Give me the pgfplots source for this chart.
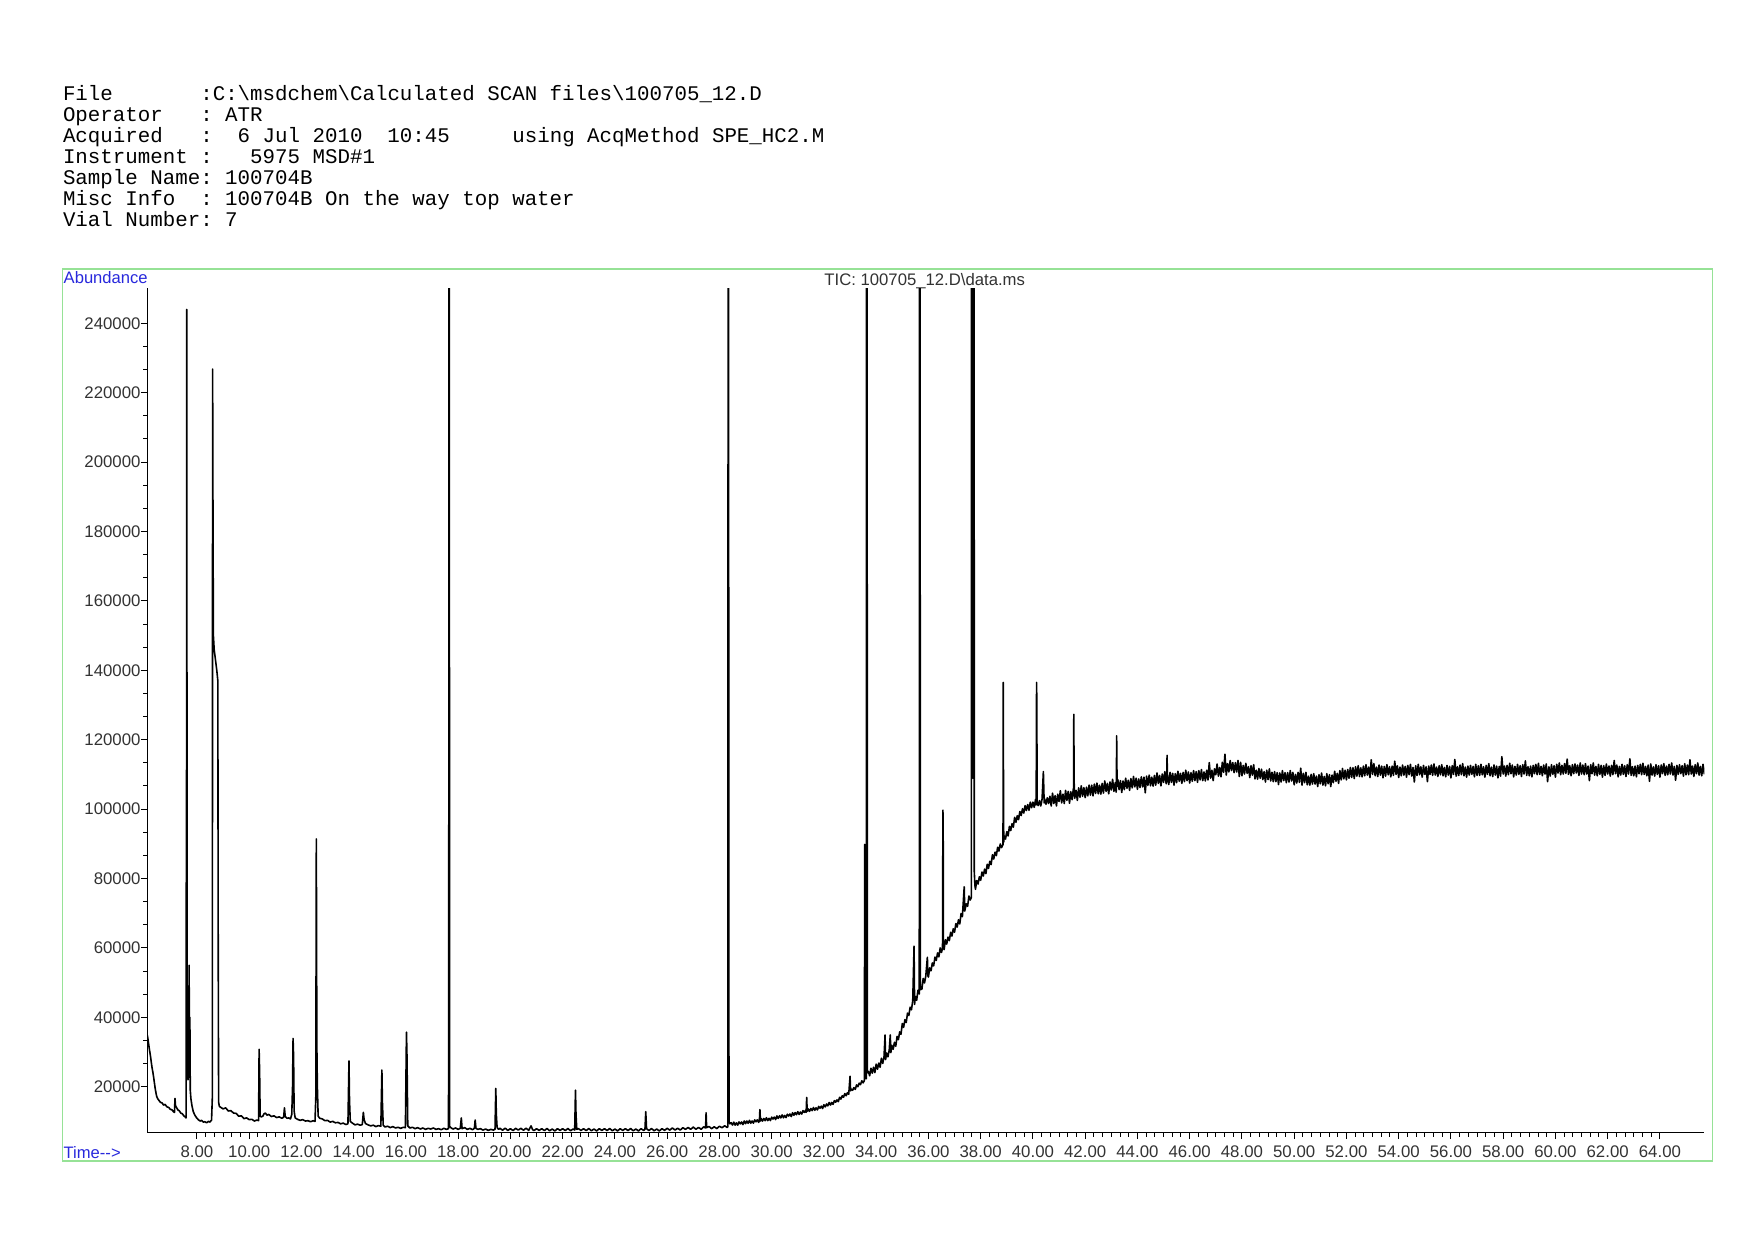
\documentclass[border=0pt]{standalone}
\usepackage{fontspec}
\setmainfont{Liberation Sans}
\newfontfamily\monofont{Liberation Mono}
\usepackage{pgfplots}
\pgfplotsset{compat=1.18}
\definecolor{frameGreen}{RGB}{150,226,150}
\definecolor{labelBlue}{RGB}{40,40,220}
\definecolor{tickGray}{RGB}{50,50,50}
\begin{document}
\frenchspacing
\begin{tikzpicture}
\path[use as bounding box] (0pt,0pt) rectangle (877pt,620pt);
% header
\begin{scope}[every node/.style={anchor=base west, inner sep=0pt, font=\monofont\fontsize{10.4}{12}\selectfont\frenchspacing}]
\node at (31.3pt,569.6pt) {File~~~~~~~:C:\textbackslash msdchem\textbackslash Calculated SCAN files\textbackslash 100705\_12.D};
\node at (31.3pt,559.15pt) {Operator~~~: ATR};
\node at (31.3pt,548.7pt) {Acquired~~~:~~6 Jul 2010~~10:45~~~~~using AcqMethod SPE\_HC2.M};
\node at (31.3pt,538.25pt) {Instrument :~~~5975 MSD\#1};
\node at (31.3pt,527.8pt) {Sample Name: 100704B};
\node at (31.3pt,517.35pt) {Misc Info~~: 100704B On the way top water};
\node at (31.3pt,506.9pt) {Vial Number: 7};
\end{scope}
% frame
\draw[frameGreen, line width=0.8pt] (31.15pt,39.5pt) rectangle (856.15pt,485.5pt);
\node[anchor=base west, inner sep=0pt, text=labelBlue, font=\fontsize{8.3}{10}\selectfont] at (31.65pt,478.0pt) {Abundance};
\node[anchor=base west, inner sep=0pt, text=labelBlue, font=\fontsize{8.3}{10}\selectfont] at (31.65pt,40.9pt) {Time-{}->};
\node[anchor=base, inner sep=0pt, text=tickGray, font=\fontsize{8.35}{10}\selectfont] at (462.35pt,477.3pt) {TIC: 100705\_12.D\textbackslash data.ms};
\begin{axis}[
  at={(73.65pt,53.65pt)}, anchor=south west,
  scale only axis, width=778.5pt, height=422.2pt,
  xmin=6.10, xmax=65.70, ymin=6740, ymax=250090,
  axis lines*=left,
  axis line style={-, line width=0.6pt, black},
  every outer x axis line/.append style={-},
  every outer y axis line/.append style={-},
  xtick={8,10,...,64}, ytick={20000,40000,...,240000},
  minor x tick num=5, minor y tick num=2,
  tick align=outside, major tick length=3.2pt, minor tick length=2pt,
  tick style={black, line width=0.5pt},
  scaled ticks=false,
  xticklabel={\pgfmathprintnumber[fixed,fixed zerofill,precision=2]{\tick}},
  yticklabel style={inner sep=0pt, /pgf/number format/.cd, fixed, precision=0, 1000 sep={}},
  tick label style={font=\fontsize{8.4}{10}\selectfont, text=tickGray},
  /pgf/number format/assume math mode=true,
  clip=true,
]
\addplot[black, line width=0.8pt, line join=round, mark=none] coordinates {
(6.10,34900)(6.13,33500)(6.16,31800)(6.19,30300)(6.22,28900)(6.25,27200)(6.28,25600)(6.31,24300)(6.34,22900)(6.37,21200)(6.40,19600)(6.43,18300)(6.46,17200)(6.50,16500)(6.55,16000)(6.60,15500)(6.67,15300)(6.72,14700)(6.78,14900)(6.85,14200)(6.92,14000)(6.98,13500)(7.05,13300)(7.10,12800)(7.14,12600)(7.16,16600)(7.18,14500)(7.22,14000)(7.27,13300)(7.32,13100)(7.38,12400)(7.44,12200)(7.50,11600)(7.55,11300)(7.58,11000)
(7.585,11000)(7.595,98000)(7.60,70000)(7.61,244000)(7.625,40000)(7.64,28000)(7.66,22000)(7.69,25000)(7.70,55000)(7.715,30000)(7.73,40000)(7.745,19000)(7.77,16500)(7.81,14500)(7.86,12800)(7.92,11800)(7.98,11100)(8.05,10500)(8.12,10100)(8.18,10300)(8.24,9800)(8.30,9900)(8.37,9600)(8.44,10000)(8.50,9800)(8.56,10400)
(8.59,17000)(8.60,226800)(8.615,183000)(8.63,150000)(8.66,146000)(8.71,143000)(8.76,140000)(8.80,137000)(8.815,58000)(8.83,15500)(8.86,14300)(8.92,14000)(9.0,13600)
(9.1,13900)(9.2,13000)(9.3,13100)(9.4,12400)(9.5,12300)(9.6,11500)(9.7,11600)(9.8,10800)(9.9,11000)(10.0,10500)(10.1,10600)(10.2,10100)(10.3,10400)(10.36,10200)(10.38,30800)(10.40,24000)(10.42,11500)(10.47,11300)(10.52,11500)(10.57,12200)(10.62,12400)(10.68,11800)(10.75,12000)(10.85,11400)(10.95,11600)(11.05,11100)(11.15,11300)(11.25,10900)(11.32,11200)(11.35,13900)(11.38,11400)(11.45,10900)(11.52,11000)(11.58,10700)(11.63,12000)(11.66,20000)(11.68,33900)(11.70,28600)(11.72,13000)(11.76,11000)(11.85,10600)(11.95,10300)(12.05,10500)(12.15,10100)(12.25,10200)(12.35,9900)(12.45,10200)(12.52,10000)(12.55,17000)(12.57,91400)(12.59,32000)(12.61,20000)(12.64,11500)(12.7,10900)(12.8,10700)(12.9,10200)(13.0,10300)(13.1,9800)(13.2,10000)(13.3,9600)(13.4,9700)(13.5,9300)(13.6,9500)(13.7,9100)(13.78,9300)(13.82,27400)(13.84,16000)(13.87,10000)(13.95,9500)(14.05,9000)(14.15,9200)(14.25,8900)(14.33,9100)(14.37,12600)(14.40,10500)(14.45,9400)(14.55,9000)(14.65,8700)(14.75,8900)(14.85,8500)(14.95,8800)(15.04,8600)(15.08,24800)(15.10,15500)(15.13,8900)(15.2,8400)(15.3,8600)(15.4,8200)(15.5,8500)(15.6,8100)(15.7,8300)(15.8,8000)(15.9,8300)(15.98,8200)(16.02,35700)(16.04,29000)(16.07,8700)(16.15,8100)(16.25,8300)(16.35,7900)(16.45,8200)(16.55,7800)(16.65,8100)(16.75,7700)(16.85,8000)(16.95,7800)(17.05,8100)(17.15,7700)(17.25,7900)(17.35,7600)(17.45,8000)(17.55,7700)(17.63,7900)(17.645,130000)(17.655,400000)(17.665,150000)(17.675,8500)(17.72,8200)(17.8,7800)(17.9,8100)(18.0,7700)(18.08,8000)(18.12,11000)(18.15,7900)(18.25,8200)(18.35,7700)(18.45,8000)(18.55,7600)(18.62,8000)(18.65,10400)(18.68,8000)(18.75,7700)(18.85,7900)(18.95,7500)(19.05,7800)(19.15,7400)(19.25,7700)(19.35,7500)(19.41,7700)(19.44,19500)(19.46,12000)(19.49,8200)(19.55,7700)
(19.6,8000)(19.7,7450)(19.8,8050)(19.9,7400)(20.0,7900)(20.1,7350)(20.2,8000)(20.3,7500)(20.4,8000)(20.5,7450)(20.6,8050)(20.7,7400)(20.79,8700)(20.85,7600)(20.9,7350)(21.0,7900)(21.1,7400)(21.2,7900)(21.3,7350)(21.4,7950)(21.5,7300)(21.6,7800)(21.7,7250)(21.8,7900)(21.9,7400)(22.0,7900)(22.1,7350)(22.2,7950)(22.3,7300)(22.4,7800)(22.46,7500)(22.49,19000)(22.51,12000)(22.54,7700)(22.6,7900)(22.7,7400)(22.8,7900)(22.9,7350)(23.0,7950)(23.1,7300)(23.2,7800)(23.3,7250)(23.4,7900)(23.5,7400)(23.6,7900)(23.7,7350)(23.8,7950)(23.9,7300)(24.0,7800)(24.1,7250)(24.2,7900)(24.3,7400)(24.4,7900)(24.5,7350)(24.6,7950)(24.7,7300)(24.8,7800)(24.9,7250)(25.0,7900)(25.1,7400)(25.15,7700)(25.18,12800)(25.21,7900)(25.3,7350)(25.4,7950)(25.5,7300)(25.6,7800)(25.7,7250)(25.8,7900)(25.9,7400)(26.0,8000)(26.1,7480)(26.2,8110)(26.3,7490)(26.4,8020)(26.5,7500)(26.6,8180)(26.7,7710)(26.8,8240)(26.9,7720)(27.0,8350)(27.1,7730)(27.2,8260)(27.3,7740)(27.4,8420)(27.47,8100)(27.49,12500)(27.51,8200)(27.6,8530)(27.7,7910)(27.8,8440)(27.9,7920)(28.0,8600)(28.1,8170)(28.2,8730)(28.3,8250)
(28.325,8500)(28.335,400000)(28.35,400000)(28.355,152000)(28.36,150000)(28.365,10000)(28.40,9300)
(28.45,9620)(28.50,8950)(28.55,9790)(28.60,8930)(28.65,9570)(28.70,8910)(28.75,9850)(28.80,9290)(28.85,9830)(28.90,9070)(28.95,10110)(29.00,9350)(29.05,10100)(29.10,9460)(29.15,10310)(29.20,9470)(29.25,10120)(29.30,9480)(29.35,10430)(29.40,9890)(29.45,10440)(29.50,9700)(29.53,10200)(29.55,13400)(29.57,10100)(29.60,10820)(29.65,10080)(29.70,10840)(29.75,10200)(29.80,11060)(29.85,10220)(29.90,10880)(29.95,10240)(30.00,11200)(30.05,10670)(30.10,11240)(30.15,10510)(30.20,11580)(30.25,10850)(30.30,11620)(30.35,10990)(30.40,11860)(30.45,11030)(30.50,11700)(30.55,11080)(30.60,12060)(30.65,11540)(30.70,12120)(30.75,11400)(30.80,12480)(30.85,11760)(30.90,12540)(30.95,11920)(31.00,12800)(31.05,12000)(31.10,12700)(31.15,12100)(31.20,13100)(31.25,12600)(31.30,13200)(31.32,12600)(31.34,16900)(31.36,12900)(31.40,13600)(31.45,12900)(31.50,13700)(31.55,13100)(31.60,14000)(31.65,13200)(31.70,13900)(31.75,13300)(31.80,14300)(31.85,13800)(31.90,14400)(31.95,13700)(32.00,14800)(32.05,14160)(32.10,15020)(32.15,14480)(32.20,15440)(32.25,14700)(32.30,15460)(32.35,14920)(32.40,15980)(32.45,15540)(32.50,16200)(32.55,15670)(32.60,16940)(32.65,16410)(32.70,17380)(32.75,16950)(32.80,18020)(32.85,17390)(32.90,18260)(32.95,17830)(33.00,23000)(33.02,18800)(33.05,19280)(33.10,18970)(33.15,19750)(33.20,19230)(33.25,20520)(33.30,20000)(33.35,21000)(33.40,20600)(33.45,21700)(33.50,21100)(33.55,21800)(33.56,89800)(33.57,22300)(33.60,22400)(33.625,22300)(33.635,400000)(33.65,400000)(33.66,24000)
(33.70,24400)(33.75,23150)(33.80,25300)(33.85,23900)(33.90,25600)(33.95,24050)(34.00,26500)(34.05,25050)(34.10,26800)(34.15,25600)(34.20,28200)(34.25,26700)(34.30,28500)(34.34,34900)(34.36,27800)(34.40,29700)(34.45,28600)(34.50,30600)(34.54,34900)(34.56,29800)(34.60,31900)(34.65,30800)(34.70,32800)(34.75,31650)(34.80,34500)(34.85,33550)(34.90,35800)(34.95,35100)(35.00,38200)(35.05,37100)(35.10,39300)(35.15,38500)(35.20,41200)(35.25,40500)(35.30,42900)(35.35,42150)(35.40,44800)(35.45,60500)(35.47,43700)(35.50,46000)(35.55,44900)(35.60,47800)(35.65,46700)(35.66,400000)(35.675,400000)(35.685,161400)(35.69,48000)(35.75,48100)(35.80,51200)(35.85,49900)(35.90,51900)(35.96,57300)(35.98,51900)(36.00,51600)(36.05,54250)(36.10,53400)(36.15,55650)(36.20,54800)(36.25,57350)(36.30,56400)(36.35,58550)(36.40,57400)(36.45,60000)(36.50,58700)(36.54,59900)(36.555,99700)(36.565,92000)(36.575,60500)(36.60,59500)(36.65,62350)(36.70,61100)(36.75,63100)(36.80,62100)(36.85,64500)(36.90,63400)(36.95,65500)(37.00,64500)(37.05,67000)(37.10,66000)(37.15,68100)(37.20,66900)(37.25,69900)(37.30,69000)(37.37,77600)(37.39,70600)(37.45,72700)(37.50,72000)(37.55,74950)(37.60,73800)(37.645,74500)(37.655,400000)(37.665,400000)(37.70,108900)(37.735,400000)(37.745,400000)(37.755,82000)(37.78,78000)(37.80,76900)(37.85,79400)(37.90,78400)(37.95,80500)(38.00,79500)(38.05,81850)(38.10,80700)(38.15,82700)(38.20,81400)(38.25,84100)(38.30,82900)(38.35,84950)(38.40,84000)(38.45,86850)(38.50,85600)(38.55,87600)(38.60,86600)(38.65,89000)(38.70,87900)(38.75,89950)(38.80,88900)(38.855,89800)(38.865,136500)(38.875,98600)(38.885,90500)(38.90,92300)(38.95,91350)(39.00,93500)(39.05,92250)(39.10,95000)(39.15,93800)(39.20,95800)(39.25,94800)(39.30,97600)(39.35,96200)(39.40,98100)(39.45,96950)(39.50,99300)(39.55,98150)(39.60,100100)(39.65,98850)(39.70,101000)(39.75,99600)(39.80,101300)(39.85,99650)(39.90,102000)(39.95,100400)(40.00,102000)(40.05,100500)(40.10,102800)(40.12,101200)(40.13,112200)(40.14,136500)(40.15,129700)(40.16,101900)(40.20,101000)(40.25,102450)(40.30,100900)(40.35,102850)(40.40,110800)(40.43,101800)(40.45,102900)(40.50,101400)(40.55,103250)(40.60,101600)
(40.65,103700)(40.70,100900)(40.75,104600)(40.80,101600)(40.85,103900)(40.90,100900)(40.95,104300)(41.00,102200)(41.05,105300)(41.10,101800)(41.15,104300)(41.20,101600)(41.25,105400)(41.30,102500)(41.35,105100)(41.40,101700)(41.45,105000)(41.50,102700)(41.55,106000)(41.555,104000)(41.565,127300)(41.575,110000)(41.585,104500)(41.60,103100)(41.65,105400)(41.70,102500)(41.75,106100)(41.80,103400)(41.85,106700)(41.90,103700)(41.95,106200)(42.00,103300)(42.05,106300)(42.10,103800)(42.15,106900)(42.20,104000)(42.25,106900)(42.30,103800)(42.35,107200)(42.40,104500)(42.45,107500)(42.50,104400)(42.55,106900)(42.60,104300)(42.65,107400)(42.70,104600)(42.75,108100)(42.80,105100)(42.85,107400)(42.90,104400)(42.95,107800)(43.00,105500)(43.05,108600)(43.10,105100)(43.15,107600)(43.185,104900)(43.195,106000)(43.205,121100)(43.215,112000)(43.225,106500)(43.25,108500)(43.30,105600)(43.35,108200)(43.40,104800)(43.45,108100)(43.50,105600)(43.55,108900)(43.60,106000)(43.65,108300)(43.70,105400)(43.75,108800)(43.80,106100)(43.85,109400)(43.90,106400)(43.95,108900)(44.00,105700)(44.05,108700)(44.10,106200)(44.15,109300)(44.20,106400)(44.25,109200)(44.30,104700)(44.35,109500)(44.40,106800)(44.45,109800)(44.50,106700)(44.55,109200)(44.60,106600)(44.65,109700)(44.70,106900)(44.75,110400)(44.80,107400)(44.85,109700)(44.90,106700)(44.95,110100)(45.00,107700)(45.05,110800)(45.10,107300)(45.125,108500)(45.135,115500)(45.145,110500)(45.15,109800)(45.20,107100)(45.25,110600)(45.30,107700)(45.35,110300)(45.40,106900)(45.45,110200)(45.50,107600)(45.55,110900)(45.60,108000)(45.65,110300)(45.70,107400)(45.75,110600)(45.80,107900)(45.85,111200)(45.90,108200)(45.95,110700)(46.00,107500)(46.05,110500)(46.10,108000)(46.15,111100)(46.20,108200)(46.25,110800)(46.30,107700)(46.35,111100)(46.40,108400)(46.45,111400)(46.50,108200)(46.55,110700)(46.60,108100)(46.65,111200)(46.70,108400)(46.75,113400)(46.80,108900)(46.85,111200)(46.90,108200)(46.95,111600)(47.00,109900)(47.05,113000)(47.10,109500)(47.15,112000)(47.20,109300)(47.25,113500)(47.30,110600)(47.35,115800)(47.40,109800)(47.45,113100)(47.50,110700)(47.55,114000)(47.60,111100)(47.65,113400)(47.70,110500)(47.75,113400)(47.80,110700)(47.85,114000)(47.90,109400)(47.95,113500)(48.00,109600)(48.05,112600)(48.10,110100)(48.15,113200)(48.20,110300)(48.25,112200)(48.30,109100)(48.35,112500)(48.40,109800)(48.45,112800)(48.50,108700)(48.55,111200)(48.60,108600)(48.65,111700)(48.70,108900)(48.75,111500)(48.80,108500)(48.85,110800)(48.90,107800)(48.95,111200)
(49.00,108500)(49.05,111600)(49.10,108100)(49.15,110600)(49.20,107900)(49.25,110800)(49.30,107900)(49.35,110500)(49.40,107100)(49.45,110400)(49.50,107800)(49.55,111100)(49.60,108200)(49.65,110500)(49.70,107600)(49.75,110500)(49.80,107800)(49.85,111100)(49.90,108100)(49.95,110600)(50.00,107000)(50.05,110000)(50.10,107500)(50.15,110600)(50.20,107700)(50.25,111800)(50.30,106900)(50.35,110300)(50.40,107600)(50.45,110600)(50.50,107000)(50.55,109500)(50.60,106900)(50.65,110000)(50.70,107200)(50.75,110200)(50.80,107200)(50.85,109500)(50.90,106500)(50.95,109900)(51.00,107300)(51.05,110400)(51.10,106900)(51.15,109400)(51.20,106700)(51.25,110200)(51.30,107300)(51.35,109900)(51.40,106500)(51.45,109800)(51.50,107600)(51.55,110900)(51.60,108000)(51.65,110300)(51.70,107400)(51.75,111100)(51.80,108400)(51.85,111700)(51.90,108700)(51.95,111200)(52.00,108400)(52.05,111400)(52.10,108900)(52.15,112000)(52.20,109100)(52.25,111900)(52.30,108800)(52.35,112200)(52.40,109500)(52.45,112500)(52.50,109400)(52.55,111900)(52.60,109300)(52.65,112400)(52.70,109600)(52.75,112800)(52.80,109800)(52.85,112100)(52.90,109100)(52.95,114200)(53.00,110000)
(53.05,113100)(53.10,109600)(53.15,112100)(53.20,109400)(53.25,112700)(53.30,109800)(53.35,112400)(53.40,109000)(53.45,112300)(53.50,109500)(53.55,112800)(53.60,109900)(53.65,112200)(53.70,109300)(53.75,112400)(53.80,109700)(53.85,113800)(53.90,110000)(53.95,112500)(54.00,109100)(54.05,112100)(54.10,109600)(54.15,112700)(54.20,109800)(54.25,112300)(54.30,109200)(54.35,112600)(54.40,109900)(54.45,112900)(54.50,109500)(54.55,112000)(54.60,107800)(54.65,112500)(54.70,109700)(54.75,112900)(54.80,109900)(54.85,112200)(54.90,109200)(54.95,112600)(55.00,110000)
(55.05,112200)(55.10,107900)(55.15,112400)(55.20,110000)(55.25,112700)(55.30,109700)(55.35,113000)(55.40,109800)(55.45,112100)(55.50,109400)(55.55,112500)(55.60,109900)(55.65,112800)(55.70,109600)(55.75,112000)(55.80,109300)(55.85,112600)(55.90,109800)(55.95,112300)(56.00,109000)(56.05,112500)(56.10,110000)(56.15,114300)(56.20,109500)(56.25,112200)(56.30,109700)(56.35,112700)(56.40,109900)(56.45,113100)(56.50,109600)(56.55,112100)(56.60,109200)(56.65,112400)(56.70,109800)(56.75,112600)(56.80,110000)(56.85,112300)(56.90,109300)(56.95,112900)(57.00,109700)
(57.05,112500)(57.10,109700)(57.15,112900)(57.20,109900)(57.25,112200)(57.30,109200)(57.35,112600)(57.40,110000)(57.45,113100)(57.50,109600)(57.55,112100)(57.60,109400)(57.65,112700)(57.70,109800)(57.75,112400)(57.80,109000)(57.85,112300)(57.90,109500)(57.95,115100)(58.00,110100)(58.05,112400)(58.10,109500)(58.15,112600)(58.20,109900)(58.25,113200)(58.30,110200)(58.35,112700)(58.40,109300)(58.45,112300)(58.50,109800)(58.55,112900)(58.60,110000)(58.65,112500)(58.70,109400)(58.75,112800)(58.80,110100)(58.85,113900)(58.90,109700)(58.95,112200)(59.00,109600)
(59.05,112400)(59.10,109300)(59.15,112600)(59.20,110200)(59.25,112900)(59.30,109900)(59.35,113200)(59.40,110000)(59.45,112300)(59.50,109600)(59.55,112700)(59.60,110100)(59.65,113000)(59.70,107900)(59.75,112200)(59.80,109500)(59.85,112800)(59.90,110000)(59.95,112500)(60.00,109200)(60.05,112900)(60.10,110400)(60.15,113300)(60.20,109900)(60.25,112600)(60.30,110100)(60.35,113100)(60.40,110300)(60.45,114400)(60.50,110000)(60.55,112500)(60.60,109600)(60.65,112800)(60.70,110200)(60.75,113000)(60.80,110400)(60.85,112700)(60.90,109700)(60.95,113300)(61.00,110100)
(61.05,112700)(61.10,109900)(61.15,113100)(61.20,110100)(61.25,112400)(61.30,108200)(61.35,112800)(61.40,110200)(61.45,113300)(61.50,109800)(61.55,112300)(61.60,109600)(61.65,112900)(61.70,110000)(61.75,112600)(61.80,109200)(61.85,112500)(61.90,109700)(61.95,113000)(62.00,110100)(62.05,112400)(62.10,109500)(62.15,112600)(62.20,109900)(62.25,114000)(62.30,110200)(62.35,112700)(62.40,109300)(62.45,112300)(62.50,109800)(62.55,112900)(62.60,110000)(62.65,112500)(62.70,109400)(62.75,112800)(62.80,110100)(62.85,114500)(62.90,109700)(62.95,112200)(63.00,109600)
(63.05,112400)(63.10,109300)(63.15,112600)(63.20,110200)(63.25,112900)(63.30,109900)(63.35,113200)(63.40,110000)(63.45,112300)(63.50,109600)(63.55,112700)(63.60,108000)(63.65,113000)(63.70,109800)(63.75,112200)(63.80,109500)(63.85,112800)(63.90,110000)(63.95,112500)(64.00,109200)(64.05,112700)(64.10,110200)(64.15,113100)(64.20,109700)(64.25,112400)(64.30,109900)(64.35,112900)(64.40,110100)(64.45,113300)(64.50,109800)(64.55,112300)(64.60,108300)(64.65,112600)(64.70,110000)(64.75,112800)(64.80,110200)(64.85,112500)(64.90,109500)(64.95,113100)(65.00,109900)
(65.05,112700)(65.10,109900)(65.15,114200)(65.20,110100)(65.25,112400)(65.30,109400)(65.35,112800)(65.40,110200)(65.45,113300)(65.50,109800)(65.55,112300)(65.60,109600)(65.65,112900)(65.70,110000)
};
\end{axis}
\end{tikzpicture}
\end{document}
